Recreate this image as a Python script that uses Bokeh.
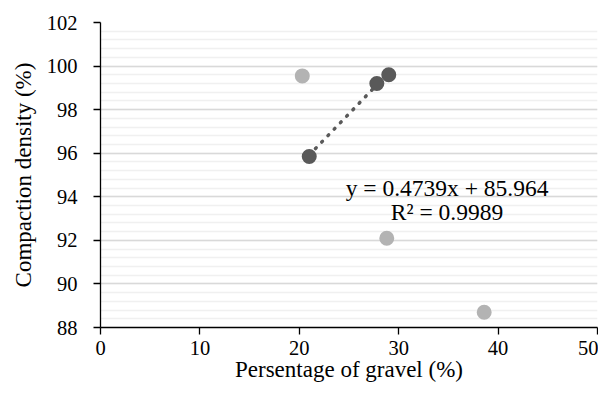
from bokeh.plotting import figure
from bokeh.models import Range1d, FixedTicker, Label
from bokeh.embed import file_html
from bokeh.resources import INLINE

# Data
fit_x = [21.0, 27.8, 29.0]
fit_y = [95.85, 99.2, 99.6]
other_x = [20.3, 28.8, 38.6]
other_y = [99.55, 92.1, 88.7]
slope = 0.4739
intercept = 85.964
eq_text = "y = 0.4739x + 85.964"
r2_text = "R² = 0.9989"
x_title = "Persentage of gravel (%)"
y_title = "Compaction density (%)"
x_ticks = [0, 10, 20, 30, 40, 50]
y_ticks = [88, 90, 92, 94, 96, 98, 100, 102]
y_minor = [88 + 0.4 * i for i in range(36)]

FONT = "Liberation Serif"

p = figure(width=598, height=387, output_backend="svg", toolbar_location=None,
           x_range=Range1d(0, 50), y_range=Range1d(88, 102),
           min_border_left=100, min_border_right=1, min_border_top=22, min_border_bottom=60)
p.outline_line_color = None
p.background_fill_color = "white"

# grids
p.xgrid.visible = False
p.ygrid.ticker = FixedTicker(ticks=y_ticks, minor_ticks=y_minor)
p.ygrid.grid_line_color = "#d9d9d9"
p.ygrid.grid_line_width = 1.3
p.ygrid.minor_grid_line_color = "#f0f0f0"
p.ygrid.minor_grid_line_width = 1.3

for ax in (p.xaxis[0], p.yaxis[0]):
    ax.axis_line_color = "black"
    ax.axis_line_width = 1.3
    ax.major_tick_line_color = "black"
    ax.major_tick_line_width = 1.3
    ax.major_tick_in = 0
    ax.major_tick_out = 7
    ax.minor_tick_line_color = None
    ax.major_label_text_font = FONT
    ax.major_label_text_font_size = "20.5px"
    ax.major_label_text_color = "black"
    ax.axis_label_text_font = FONT
    ax.axis_label_text_font_size = "23px"
    ax.axis_label_text_font_style = "normal"
    ax.axis_label_text_color = "black"

p.xaxis.ticker = FixedTicker(ticks=x_ticks)
p.yaxis.ticker = FixedTicker(ticks=y_ticks)
p.xaxis.axis_label = x_title
p.yaxis.axis_label = y_title
p.xaxis.major_label_standoff = 6
p.xaxis.axis_label_standoff = -1
p.yaxis.major_label_standoff = 16
p.yaxis.axis_label_standoff = 8

# light series
p.scatter(other_x, other_y, size=15, fill_color="#b3b3b3", line_color=None)

# trend line
tx = [min(fit_x), max(fit_x)]
ty = [slope * x + intercept for x in tx]
p.line(tx, ty, line_color="#595959", line_width=3.5, line_dash="1 8", line_cap="round")

# dark series
p.scatter(fit_x, fit_y, size=15, fill_color="#595959", line_color=None)

p.add_layout(Label(x=34.86, y=94.4, text=eq_text, text_align="center", text_baseline="middle",
                   text_font=FONT, text_font_size="23.5px", text_color="black"))
p.add_layout(Label(x=34.86, y=93.3, text=r2_text, text_align="center", text_baseline="middle",
                   text_font=FONT, text_font_size="23.5px", text_color="black"))

open("out.html", "w").write(file_html(p, INLINE))
